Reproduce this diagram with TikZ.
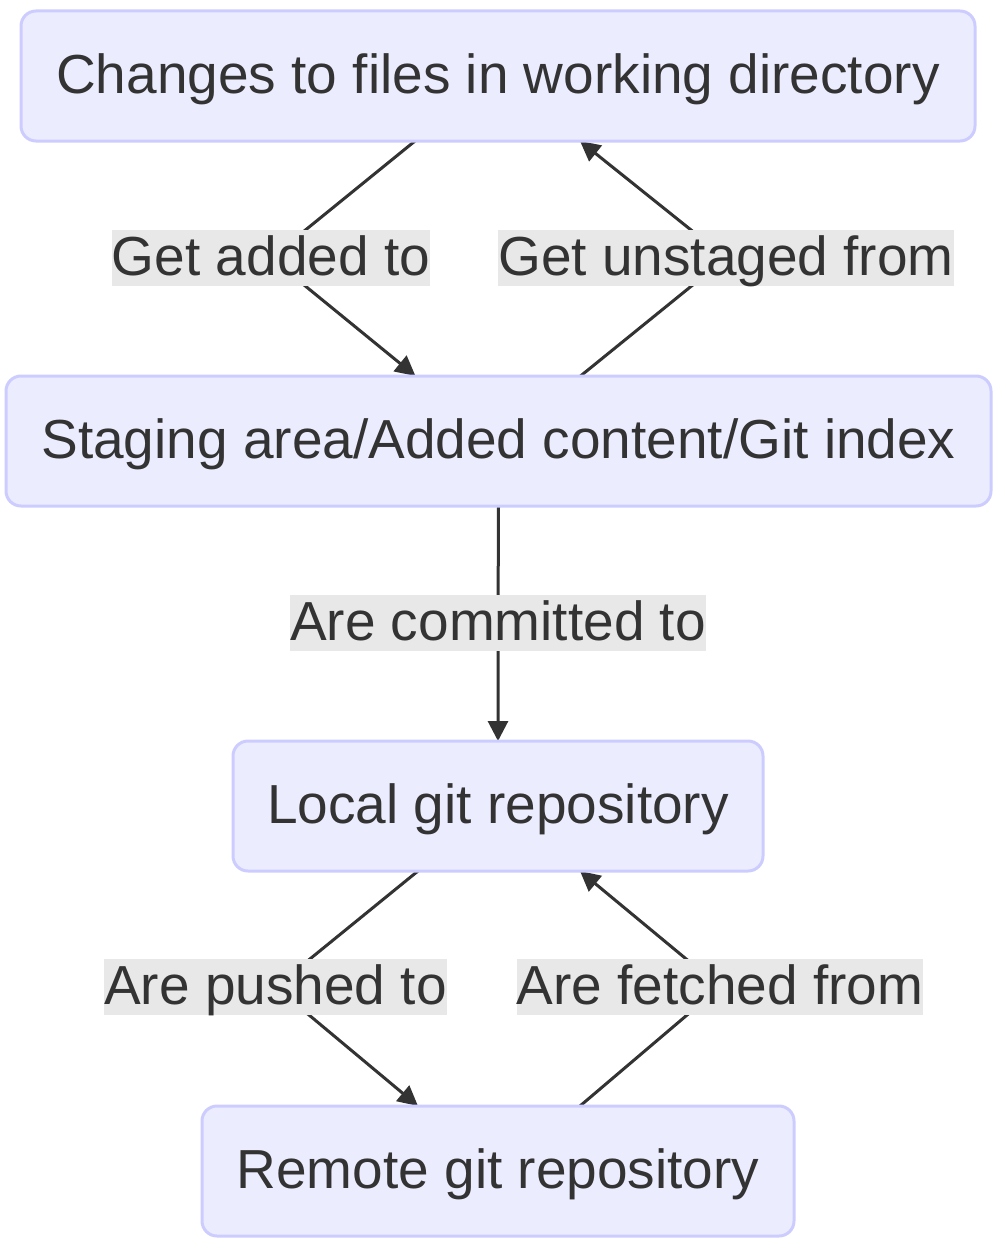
\documentclass[tikz,border=0pt]{standalone}
\usepackage{fontspec}
\setmainfont{Liberation Sans}
\usetikzlibrary{arrows.meta}
\definecolor{boxfill}{HTML}{ECECFF}
\definecolor{boxline}{HTML}{CCCCFF}
\definecolor{ink}{HTML}{333333}
\definecolor{lblbg}{HTML}{E8E8E8}
\pgfdeclarelayer{bg}
\pgfsetlayers{bg,main}
\tikzset{
  stagebox/.style={draw=boxline, fill=boxfill, line width=3pt, rounded corners=15pt,
    minimum height=130pt, inner sep=0pt, outer sep=0pt, text=ink, font=\fontsize{55}{66}\selectfont,
    text height=45pt, text depth=11pt},
  edgelabel/.style={fill=lblbg, inner xsep=0pt, inner ysep=0pt, text=ink,
    font=\fontsize{55}{66}\selectfont, text height=45pt, text depth=11pt},
  edge/.style={draw=ink, line width=3pt, -{Triangle[length=20pt,width=20pt]}}
}
\begin{document}
\begin{tikzpicture}[x=1pt,y=-1pt]
\useasboundingbox (0,0) rectangle (995,1239);
\node[stagebox, minimum width=954pt] (b1) at (498,76) {Changes to files in working directory};
\node[stagebox, minimum width=985pt] (b2) at (498.5,441) {Staging area/Added content/Git index};
\node[stagebox, minimum width=530pt] (b3) at (498,806) {Local git repository};
\node[stagebox, minimum width=592pt] (b4) at (498,1171) {Remote git repository};
\node[edgelabel] (l1) at (271,258) {Get added to};
\node[edgelabel] (l2) at (726,258) {Get unstaged from};
\node[edgelabel] (l3) at (498,623) {Are committed to};
\node[edgelabel] (l4) at (275.5,987) {Are pushed to};
\node[edgelabel] (l5) at (720,987) {Are fetched from};
\begin{pgfonlayer}{bg}
\draw[edge] ([xshift=-83pt]b1.south) -- (l1.center) -- ([xshift=-83pt]b2.north);
\draw[edge] ([xshift=82pt]b2.north) -- (l2.center) -- ([xshift=82pt]b1.south);
\draw[edge] (b2.south) -- (l3.center) -- (b3.north);
\draw[edge] ([xshift=-80pt]b3.south) -- (l4.center) -- ([xshift=-80pt]b4.north);
\draw[edge] ([xshift=82pt]b4.north) -- (l5.center) -- ([xshift=82pt]b3.south);
\end{pgfonlayer}
\end{tikzpicture}
\end{document}
